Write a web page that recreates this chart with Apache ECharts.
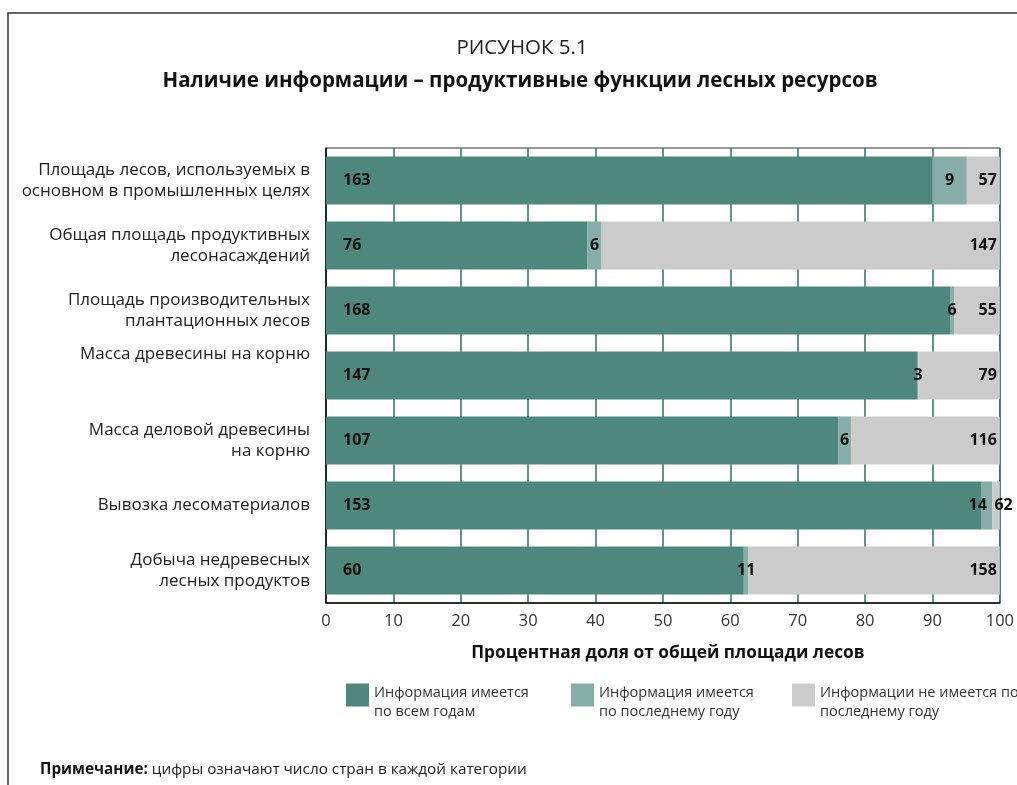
<!DOCTYPE html>
<html><head><meta charset="utf-8">
<script src="https://cdn.jsdelivr.net/npm/echarts@6/dist/echarts.min.js"></script>
<style>html,body{margin:0;padding:0;background:#fff}#c{width:1017px;height:785px}</style>
</head><body><div id="c"></div>
<script>
var categories = [
  'Площадь лесов, используемых в\nосновном в промышленных целях',
  'Общая площадь продуктивных\nлесонасаждений',
  'Площадь производительных\nплантационных лесов',
  'Масса древесины на корню\n \n ',
  'Масса деловой древесины\nна корню',
  'Вывозка лесоматериалов',
  'Добыча недревесных\nлесных продуктов'
];
// percentage of total forest area
var pctAll = [90.0, 38.8, 92.6, 87.8, 76.0, 97.2, 62.0];
var pctLast = [5.1, 2.1, 0.6, 0.1, 1.9, 1.7, 0.7];
var pctNone = [4.9, 59.1, 6.8, 12.1, 22.1, 1.1, 37.3];
// number of countries
var cntAll = [163, 76, 168, 147, 107, 153, 60];
var cntLast = [9, 6, 6, 3, 6, 14, 11];
var cntNone = [57, 147, 55, 79, 116, 62, 158];
var xTicks = [0, 10, 20, 30, 40, 50, 60, 70, 80, 90, 100];
var seriesNames = ['Информация имеется\nпо всем годам', 'Информация имеется\nпо последнему году', 'Информации не имеется по\nпоследнему году'];
var colors = ['#4e877b', '#86aea6', '#cbcbcb'];

var FONT = 'Open Sans';
var labelBase = {show: true, color: '#111', fontFamily: FONT, fontWeight: 'bold', fontSize: 16};

function mk(vals, cnts, idx) {
  return vals.map(function (v, i) {
    var d = {value: v, cnt: cnts[i]};
    if (idx === 1 && i === 5) d.label = {offset: [-9, 0]};
    if (idx === 2 && i === 5) d.label = {position: 'insideLeft', distance: 2};
    return d;
  });
}
var fmt = function (p) { return String(p.data.cnt); };

var chart = echarts.init(document.getElementById('c'));
var legendIcon = 'path://M0,0h23v23h-23z M0,36.9h0.1v0.1h-0.1z';
var legendCommon = {
  orient: 'vertical', itemWidth: 23, itemHeight: 37, icon: legendIcon, padding: 0,
  textStyle: {fontFamily: FONT, fontSize: 14.5, color: '#333', lineHeight: 19},
  selectedMode: false
};
chart.setOption({
  animation: false,
  title: [
    {text: '{b|Примечание:} цифры означают число стран в каждой категории', left: 35, top: 757,
     textStyle: {fontFamily: FONT, fontSize: 15.3, color: '#222', fontWeight: 'normal',
       rich: {b: {fontFamily: FONT, fontSize: 15.3, fontWeight: 'bold', color: '#111'}}}}
  ],
  legend: [
    Object.assign({left: 346, top: 683, data: [seriesNames[0]]}, legendCommon),
    Object.assign({left: 571, top: 683, data: [seriesNames[1]]}, legendCommon),
    Object.assign({left: 792, top: 683, data: [seriesNames[2]]}, legendCommon)
  ],
  grid: {left: 326, right: 16, top: 148, bottom: 182, show: true, borderColor: '#333', borderWidth: 1, containLabel: false},
  xAxis: {
    type: 'value', min: xTicks[0], max: xTicks[xTicks.length - 1], interval: 10,
    axisLine: {show: true, lineStyle: {color: '#111', width: 1.5}},
    axisTick: {show: false},
    splitLine: {show: true, lineStyle: {color: '#2f6f63', width: 1.5}},
    axisLabel: {fontFamily: FONT, fontSize: 16.5, color: '#333', margin: 10},
    name: 'Процентная доля от общей площади лесов', nameLocation: 'middle', nameGap: 42,
    nameTextStyle: {fontFamily: FONT, fontWeight: 'bold', fontSize: 17.3, color: '#111', padding: [0, 0, 0, 10]}
  },
  yAxis: {
    type: 'category', inverse: true, data: categories,
    axisLine: {show: true, lineStyle: {color: '#111', width: 1.5}},
    axisTick: {show: false},
    axisLabel: {fontFamily: FONT, fontSize: 17, color: '#222', lineHeight: 21, margin: 16, align: 'right'}
  },
  series: [
    {name: seriesNames[0], type: 'bar', stack: 'a', barCategoryGap: '26%', itemStyle: {color: colors[0]},
     label: Object.assign({position: 'insideLeft', distance: 17, formatter: fmt}, labelBase), data: mk(pctAll, cntAll, 0)},
    {name: seriesNames[1], type: 'bar', stack: 'a', itemStyle: {color: colors[1]},
     label: Object.assign({position: 'inside', formatter: fmt}, labelBase), data: mk(pctLast, cntLast, 1)},
    {name: seriesNames[2], type: 'bar', stack: 'a', itemStyle: {color: colors[2]},
     label: Object.assign({position: 'insideRight', distance: 3, formatter: fmt}, labelBase), data: mk(pctNone, cntNone, 2)}
  ],
  graphic: [
    {type: 'polyline', shape: {points: [[8, 785], [8, 13], [1017, 13]]}, style: {stroke: '#333', lineWidth: 1.5, fill: null}, silent: true},
    {type: 'text', x: 522, y: 48, silent: true,
     style: {text: 'РИСУНОК 5.1', align: 'center', verticalAlign: 'middle', textAlign: 'center', textVerticalAlign: 'middle',
       fill: '#222', font: 'normal 20.5px "Open Sans"'}},
    {type: 'text', x: 520, y: 81, silent: true,
     style: {text: 'Наличие информации – продуктивные функции лесных ресурсов', align: 'center', verticalAlign: 'middle',
       textAlign: 'center', textVerticalAlign: 'middle', fill: '#111', font: 'bold 20.5px "Open Sans"'}}
  ]
});
</script></body></html>
